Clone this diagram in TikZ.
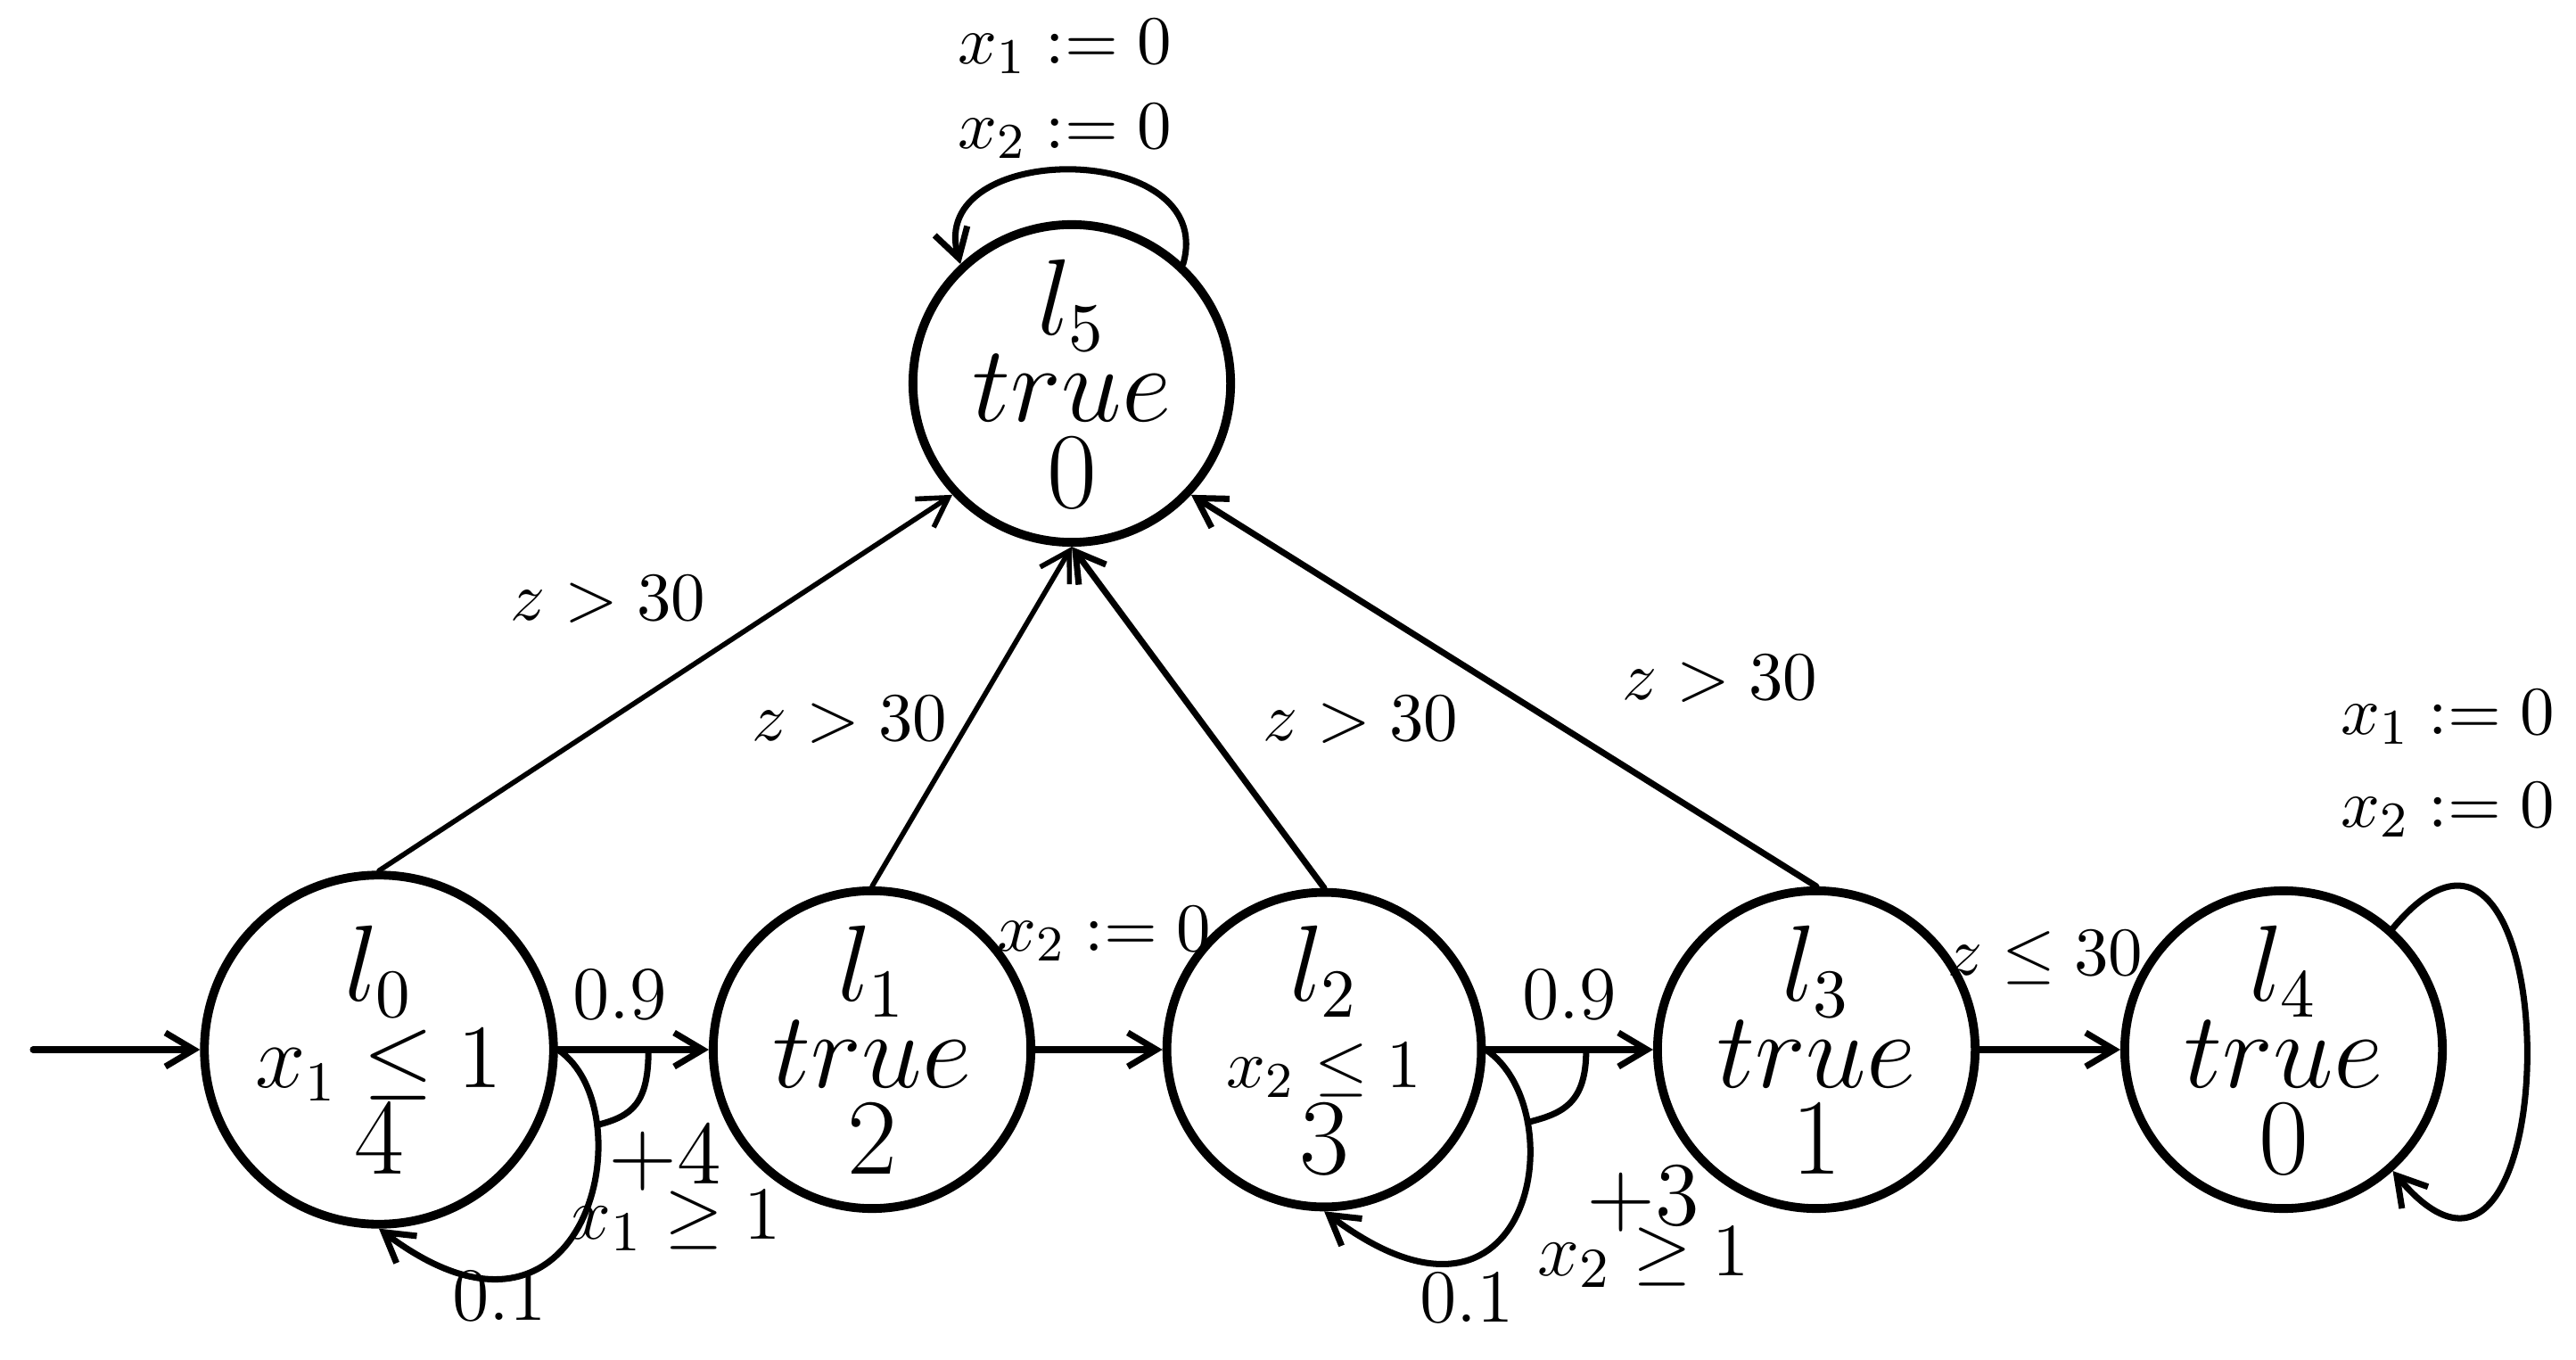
\documentclass[tikz,border=0pt]{standalone}
\usepackage{amsmath,amssymb}
\usepackage{tikz}
\usetikzlibrary{arrows.meta}

\begin{document}
\begin{tikzpicture}[>={Straight Barb[length=1.6mm,width=1.9mm]},line cap=round,line join=round,
  state/.style={circle,draw,line width=1.4pt,minimum size=1.7cm,inner sep=0pt,align=center,font=\fontsize{16}{13.8}\selectfont},
  trans/.style={->,line width=1pt},
  lbl/.style={inner sep=0pt,font=\fontsize{11}{13}\selectfont},
  lblbig/.style={inner sep=0pt,font=\fontsize{13}{15}\selectfont}]
\useasboundingbox (0,0) rectangle (14.445,7.62);
% locations
\node[state] (l0) at (2.125,1.735) {$l_0$\\{\fontsize{13.3}{13.8}\selectfont$x_1\leq 1$}\\$4$};
\node[state] (l1) at (4.89,1.735) {$l_1$\\$true$\\$2$};
\node[state] (l2) at (7.425,1.735) {$l_2$\\{\fontsize{11}{13.8}\selectfont$x_2\leq 1$}\\$3$};
\node[state] (l3) at (10.185,1.735) {$l_3$\\$true$\\$1$};
\node[state] (l4) at (12.805,1.735) {$l_4$\\$true$\\$0$};
\node[state] (l5) at (6.01,5.47) {$l_5$\\$true$\\$0$};
% initial location
\coordinate (init) at (0.185,1.735);
\draw[trans] (init) -- (l0);
% probabilistic edge of l0
\draw[trans] (l0) -- (l1) coordinate[pos=0.6] (a0);
\draw[trans] (l0.east) .. controls +(0.5,-0.335) and +(1.175,-0.885) .. (l0.south) coordinate[pos=0.25] (b0);
\draw[line width=1pt] (a0) .. controls +(0,-0.3) and +(0.2,0.05) .. (b0);
% probabilistic edge of l2
\draw[trans] (l2) -- (l3) coordinate[pos=0.6] (a2);
\draw[trans] (l2.east) .. controls +(0.5,-0.335) and +(1.175,-0.885) .. (l2.south) coordinate[pos=0.25] (b2);
\draw[line width=1pt] (a2) .. controls +(0,-0.3) and +(0.2,0.05) .. (b2);
% other edges
\draw[trans] (l1) -- (l2);
\draw[trans] (l3) -- (l4);
\draw[trans,line width=0.8pt] (l0.north) -- (l5.223);
\draw[trans,line width=0.8pt] (l1.north) -- (l5.south);
\draw[trans] (l2.north) -- (l5.south);
\draw[trans] (l3.north) -- (l5.317);
% self loops
\draw[trans] (l4.48) .. controls +(1.0,1.2) and +(1.0,-1.2) .. (l4.-48);
\draw[trans] (l5.47) .. controls +(0.2,0.7) and +(-0.2,0.7) .. (l5.133);
% guards and resets
\node[lbl] (g0) at (3.41,4.26) {$z>30$};
\node[lbl] (g1) at (4.765,3.585) {$z>30$};
\node[lbl] (g2) at (7.63,3.585) {$z>30$};
\node[lbl] (g3) at (9.645,3.815) {$z>30$};
\node[lbl] (g34) at (11.47,2.25) {$z\leq 30$};
\node[lbl] (r12) at (6.19,2.385) {$x_2:=0$};
\node[lbl] (r5a) at (5.97,7.36) {$x_1:=0$};
\node[lbl] (r5b) at (5.97,6.885) {$x_2:=0$};
\node[lbl] (r4a) at (13.725,3.6) {$x_1:=0$};
\node[lbl] (r4b) at (13.725,3.08) {$x_2:=0$};
% probabilities, costs
\node[lblbig] (p0a) at (3.475,2.045) {$0.9$};
\node[lblbig] (p0b) at (2.8,0.355) {$0.1$};
\node[lblbig,font=\fontsize{14.5}{16}\selectfont] (c0) at (3.73,1.125) {$+4$};
\node[lblbig] (h0) at (3.785,0.775) {$x_1\geq 1$};
\node[lblbig] (p2a) at (8.8,2.045) {$0.9$};
\node[lblbig] (p2b) at (8.225,0.345) {$0.1$};
\node[lblbig,font=\fontsize{14.5}{16}\selectfont] (c2) at (9.215,0.895) {$+3$};
\node[lblbig] (h2) at (9.215,0.57) {$x_2\geq 1$};
\end{tikzpicture}
\end{document}
